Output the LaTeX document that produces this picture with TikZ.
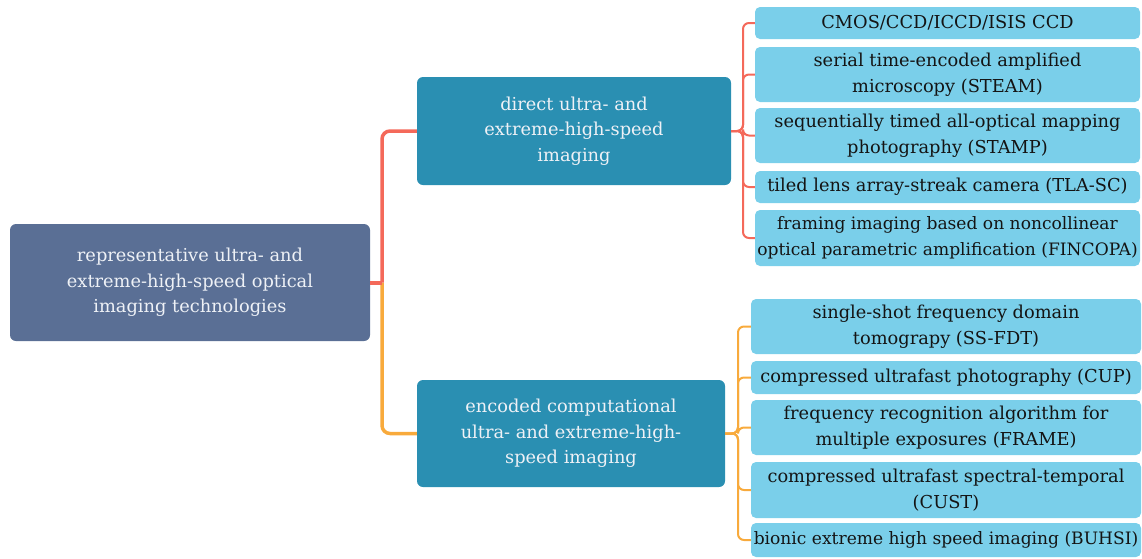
\documentclass[tikz,border=0pt]{standalone}
\usepackage{fontspec}
\setmainfont{DejaVu Serif}
\definecolor{rootc}{HTML}{5A6F95}
\definecolor{midc}{HTML}{2A8FB2}
\definecolor{leafc}{HTML}{7ACFEA}
\definecolor{redc}{HTML}{F4695A}
\definecolor{orac}{HTML}{F8AA3C}
\definecolor{lighttext}{HTML}{EEF1F6}
\definecolor{darktext}{HTML}{141414}
\tikzset{
  box/.style={rectangle, rounded corners=6pt, inner sep=0pt, align=center,
    font=\fontsize{17.8}{25.5}\selectfont},
  rootbox/.style={box, fill=rootc, text=lighttext, minimum width=360pt, minimum height=117pt},
  midbox/.style={box, fill=midc, text=lighttext, minimum height=107pt},
  leafbox/.style={box, fill=leafc, text=darktext, rounded corners=5pt},
  tightfont/.style={font=\fontsize{17.1}{25.5}\selectfont},
  trunk/.style={line width=3.5pt, rounded corners=8pt},
  twig/.style={line width=2pt, rounded corners=6pt},
}
\begin{document}
\begin{tikzpicture}[x=1pt,y=-1pt]
\useasboundingbox (0,0) rectangle (1142,558);
% root and middle nodes
\node[rootbox] (root) at (190,282.5) {representative ultra- and\\extreme-high-speed optical\\imaging technologies};
\node[midbox, minimum width=314pt, minimum height=108pt] (mid1) at (574,131) {direct ultra- and\\extreme-high-speed\\imaging};
\node[midbox, minimum width=308pt] (mid2) at (571,433.5) {encoded computational\\ultra- and extreme-high-\\speed imaging};
% upper leaves
\node[leafbox, minimum width=385pt, minimum height=32pt] (a1) at (947.5,23) {CMOS/CCD/ICCD/ISIS CCD};
\node[leafbox, minimum width=385pt, minimum height=55pt] (a2) at (947.5,74.5) {serial time-encoded amplified\\microscopy (STEAM)};
\node[leafbox, minimum width=385pt, minimum height=55pt] (a3) at (947.5,135.5) {sequentially timed all-optical mapping\\photography (STAMP)};
\node[leafbox, minimum width=385pt, minimum height=32pt] (a4) at (947.5,187) {tiled lens array-streak camera (TLA-SC)};
\node[leafbox, tightfont, minimum width=385pt, minimum height=56pt] (a5) at (947.5,238) {framing imaging based on noncollinear\\optical parametric amplification (FINCOPA)};
% lower leaves
\node[leafbox, minimum width=390pt, minimum height=55pt] (b1) at (946,326.5) {single-shot frequency domain\\tomograpy (SS-FDT)};
\node[leafbox, minimum width=390pt, minimum height=33pt] (b2) at (946,377.5) {compressed ultrafast photography (CUP)};
\node[leafbox, minimum width=390pt, minimum height=55pt] (b3) at (946,427.5) {frequency recognition algorithm for\\multiple exposures (FRAME)};
\node[leafbox, minimum width=390pt, minimum height=56pt] (b4) at (946,490) {compressed ultrafast spectral-temporal\\(CUST)};
\node[leafbox, tightfont, minimum width=390pt, minimum height=34pt] (b5) at (946,540) {bionic extreme high speed imaging (BUHSI)};
% junctions
\coordinate (j0) at (382,282.5);
\coordinate (j1) at (743,131);
\coordinate (j2) at (738,433.5);
% trunk connectors
\draw[trunk, orac] (j0) |- (mid2.west);
\draw[trunk, redc] (j0) |- (mid1.west);
\draw[line width=4pt, redc] (root.east) -- (j0);
% upper twigs
\foreach \n in {a1,a2,a3,a4,a5}{
  \draw[twig, redc] (mid1.east) -- (j1) |- (\n.west);
}
% lower twigs
\foreach \n in {b1,b2,b3,b4,b5}{
  \draw[twig, orac] (mid2.east) -- (j2) |- (\n.west);
}
\end{tikzpicture}
\end{document}
